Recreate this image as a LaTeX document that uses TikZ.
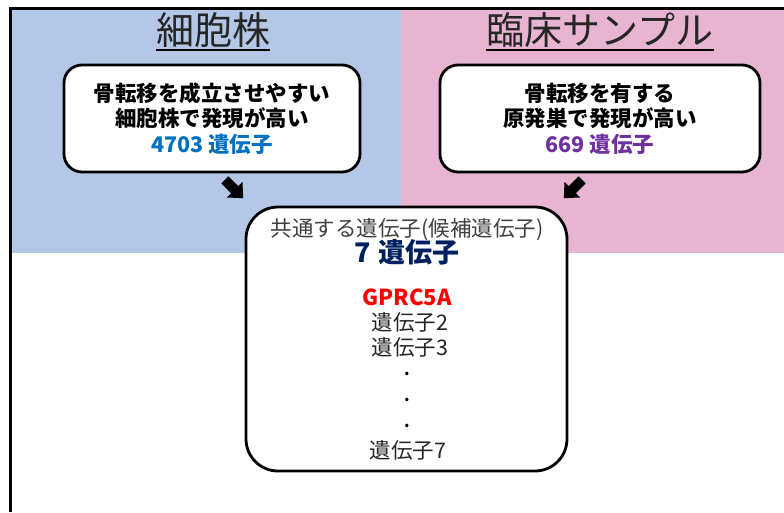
\documentclass[tikz,border=0pt]{standalone}
\usepackage{fontspec}
\setmainfont{Noto Sans CJK JP}
\definecolor{cellbg}{RGB}{180,199,231}
\definecolor{clinbg}{RGB}{231,180,210}
\definecolor{genblue}{RGB}{0,112,192}
\definecolor{genpurple}{RGB}{112,48,160}
\definecolor{navy}{RGB}{0,32,96}
\definecolor{dgray}{RGB}{64,64,64}
\tikzset{
  titletext/.style={font=\fontsize{38}{40}\selectfont, inner xsep=0pt, anchor=base, text=black!85},
  srcbox/.style={draw=black, line width=2.8pt, fill=white, rounded corners=18pt, minimum height=107pt, align=center, font=\bfseries\fontsize{21.5}{25.5}\selectfont, inner sep=0pt},
  centerbox/.style={draw=black, line width=2.8pt, fill=white, rounded corners=32pt, minimum width=321pt, minimum height=264pt, inner sep=0pt},
  linetext/.style={font=\fontsize{21.5}{23}\selectfont, text=dgray, anchor=base, inner sep=0pt},
  dottext/.style={font=\bfseries\fontsize{16}{16}\selectfont, text=black, anchor=base, inner sep=0pt},
  blockarrow/.style={fill=black}
}
\begin{document}
\begin{tikzpicture}[x=1pt,y=-1pt]
\useasboundingbox (0,0) rectangle (784,512);
\fill[cellbg] (10,8) rectangle (401,253);
\fill[clinbg] (401,8) rectangle (784,253);
\draw[line width=3pt] (10,512) -- (10,8) -- (784,8);

\node[titletext] (t1) at (213,44) {細胞株};
\draw[line width=1.2pt] ([yshift=-6pt]t1.base west) -- ([yshift=-6pt]t1.base east);
\node[titletext] (t2) at (600,44) {臨床サンプル};
\draw[line width=1.2pt] ([yshift=-6pt]t2.base west) -- ([yshift=-6pt]t2.base east);

\node[srcbox, minimum width=296pt] (b1) at (212,118.5) {骨転移を成立させやすい\\細胞株で発現が高い\\\textcolor{genblue}{4703 遺伝子}};
\node[srcbox, minimum width=320pt] (b2) at (600,118.5) {骨転移を有する\\原発巣で発現が高い\\\textcolor{genpurple}{669 遺伝子}};

\coordinate (a1) at (234,189);
\coordinate (a2) at (573,189);
\begin{scope}[shift={(a1)}, rotate=-45]
  \fill[blockarrow] (-13,-5) -- (1,-5) -- (1,-11) -- (13,0) -- (1,11) -- (1,5) -- (-13,5) -- cycle;
\end{scope}
\begin{scope}[shift={(a2)}, rotate=-135]
  \fill[blockarrow] (-13,-5) -- (1,-5) -- (1,-11) -- (13,0) -- (1,11) -- (1,5) -- (-13,5) -- cycle;
\end{scope}

\node[centerbox] (c) at (406.5,339) {};
\node[linetext] (l0) at (407,236) {共通する遺伝子(候補遺伝子)};
\node[linetext, font=\bfseries\fontsize{27}{29}\selectfont, text=navy] (l1) at (407,262) {7\hspace{7pt}遺伝子};
\node[linetext, font=\bfseries\fontsize{22}{24}\selectfont, text=red] (l2) at (407,305) {GPRC5A};
\node[linetext, text=black!85] (l3) at (410,330) {遺伝子2};
\node[linetext, text=black!85] (l4) at (410,355) {遺伝子3};
\node[dottext] (d1) at (407,375) {.};
\node[dottext] (d2) at (407,401) {.};
\node[dottext] (d3) at (407,427) {.};
\node[linetext, text=black!85] (l5) at (408,458) {遺伝子7};
\end{tikzpicture}
\end{document}
